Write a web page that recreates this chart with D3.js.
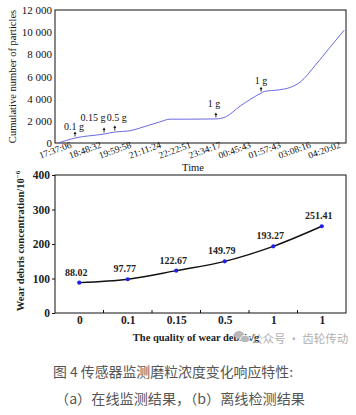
<!DOCTYPE html>
<html><head><meta charset="utf-8">
<script src="https://cdn.jsdelivr.net/npm/d3@7"></script>
<style>
html,body{margin:0;padding:0;background:#fff;}
svg{display:block;}
</style></head>
<body>
<svg id="c" width="356" height="415"></svg>
<script>
// ---- Top chart data (online monitoring) ----
const timeLabels = ["17:37:06","18:48:32","19:59:58","21:11:24","22:22:51","23:34:17","00:45:43","01:57:43","03:08:16","04:20:02"];
const onlineX = [0.1,0.67,1.64,2.0,2.5,2.84,3.5,3.85,4.5,5.38,5.7,6.2,6.89,7.0,7.5,7.85,8.2,8.7,9.2,9.67];
const onlineY = [0,450,810,990,1100,1350,1900,2150,2150,2170,2350,3350,4500,4650,4800,5000,5500,7000,8650,10180];
const yTicksTop = [0,2000,4000,6000,8000,10000,12000];
const addLabels = ["0.1 g","0.15 g","0.5 g","1 g","1 g"];
const addX = [0.67,1.64,2.0,5.38,6.89];
const addY = [450,810,990,2170,4500];

// ---- Bottom chart data (offline detection) ----
const massLabels = ["0","0.1","0.15","0.5","1","1"];
const concValues = [88.02,97.77,122.67,149.79,193.27,251.41];
const yTicksBottom = [0,100,200,300,400];

// annotation label layout (style only)
const annDx = [-1,-11,2,-2,0];
const annDy = [-2,-7,-5,-5,-3];

const svg = d3.select("#c");
const serif = "'Liberation Serif','Times New Roman',serif";

// ================= TOP CHART =================
const T = {l:55, r:346, t:10, b:143};
const xT = d3.scaleLinear().domain([0, 9.73]).range([T.l, T.r]);
const yT = d3.scaleLinear().domain([0, 12000]).range([T.b, T.t]);

svg.append("rect").attr("x",T.l).attr("y",T.t).attr("width",T.r-T.l).attr("height",T.b-T.t)
  .attr("fill","none").attr("stroke","#111").attr("stroke-width",1);

const fmtSpace = v => d3.format(",")(v).replace(/,/g," ");
const gyT = svg.append("g").attr("transform",`translate(${T.l},0)`)
  .call(d3.axisLeft(yT).tickValues(yTicksTop).tickFormat(fmtSpace).tickSize(0).tickPadding(3));
gyT.select(".domain").remove();
gyT.selectAll("text").attr("font-family",serif).attr("font-size","11px").attr("fill","#111");

const gxT = svg.append("g").attr("transform",`translate(0,${T.b})`)
  .call(d3.axisBottom(xT).tickValues(d3.range(timeLabels.length)).tickFormat(i=>timeLabels[i]).tickSize(0));
gxT.select(".domain").remove();
gxT.selectAll("text")
  .attr("font-family",serif).attr("font-size","9.5px").attr("fill","#111")
  .attr("text-anchor","middle").attr("dy",null).attr("y",null)
  .attr("dominant-baseline","middle")
  .attr("transform","translate(0,8) rotate(-20)");

const lineT = d3.line().x(d=>xT(d[0])).y(d=>yT(d[1])).curve(d3.curveMonotoneX);
svg.append("path").datum(onlineX.map((x,i)=>[x,onlineY[i]]))
  .attr("d",lineT).attr("fill","none").attr("stroke","#6a6ae0").attr("stroke-width",1);

// addition arrows and labels
const ann = svg.append("g");
addLabels.forEach((lab,i)=>{
  const px = xT(addX[i]), py = yT(addY[i]) - 1.5;
  const top = py - 5;
  ann.append("line").attr("x1",px).attr("x2",px).attr("y1",py).attr("y2",top+1.5)
    .attr("stroke","#111").attr("stroke-width",0.9);
  ann.append("path").attr("d",`M${px-1.5},${top+2.5}L${px},${top}L${px+1.5},${top+2.5}Z`).attr("fill","#111");
  ann.append("text").attr("x",px+annDx[i]).attr("y",top+annDy[i]).attr("text-anchor","middle")
    .attr("font-family",serif).attr("font-size","10px").attr("fill","#111").text(lab);
});

svg.append("text").attr("x",193).attr("y",171).attr("text-anchor","middle")
  .attr("font-family",serif).attr("font-size","10.5px").attr("fill","#111").text("Time");
svg.append("text").attr("transform",`translate(16,${(T.t+T.b)/2}) rotate(-90)`)
  .attr("text-anchor","middle").attr("font-family",serif).attr("font-size","10.5px").attr("fill","#111")
  .text("Cumulative number of particles");

// ================= BOTTOM CHART =================
const B = {l:55, r:346, t:175, b:313};
const xB = d3.scalePoint().domain(d3.range(massLabels.length)).range([B.l,B.r]).padding(0.5);
const yB = d3.scaleLinear().domain([0,400]).range([B.b,B.t]);

svg.append("rect").attr("x",B.l).attr("y",B.t).attr("width",B.r-B.l).attr("height",B.b-B.t)
  .attr("fill","none").attr("stroke","#111").attr("stroke-width",1);

const gyB = svg.append("g").attr("transform",`translate(${B.l},0)`)
  .call(d3.axisLeft(yB).tickValues(yTicksBottom).tickSize(3).tickPadding(2));
gyB.select(".domain").remove();
gyB.selectAll("line").attr("stroke","#111");
gyB.selectAll("text").attr("font-family",serif).attr("font-size","11.5px").attr("font-weight","bold").attr("fill","#222");

const gxB = svg.append("g").attr("transform",`translate(0,${B.b})`)
  .call(d3.axisBottom(xB).tickFormat(i=>massLabels[i]).tickSize(0).tickPadding(3));
gxB.select(".domain").remove();
gxB.selectAll("text").attr("font-family",serif).attr("font-size","11.5px").attr("font-weight","bold").attr("fill","#222");

// inner boundary ticks
const step = xB.step();
d3.range(1, massLabels.length).forEach(k=>{
  const bx = xB(k) - step/2;
  svg.append("line").attr("x1",bx).attr("x2",bx).attr("y1",B.b).attr("y2",B.b-3).attr("stroke","#111");
});

const lineB = d3.line().x((d,i)=>xB(i)).y(d=>yB(d)).curve(d3.curveCatmullRom);
svg.append("path").datum(concValues).attr("d",lineB).attr("fill","none")
  .attr("stroke","#111").attr("stroke-width",1.4);
svg.append("g").selectAll("circle").data(concValues).join("circle")
  .attr("cx",(d,i)=>xB(i)).attr("cy",d=>yB(d)).attr("r",2.1).attr("fill","#2020e8");
svg.append("g").selectAll("text").data(concValues).join("text")
  .attr("x",(d,i)=>xB(i)-3).attr("y",d=>yB(d)-7).attr("text-anchor","middle")
  .attr("font-family",serif).attr("font-size","10px").attr("font-weight","bold").attr("fill","#222")
  .text(d=>d.toFixed(2));

svg.append("text").attr("x",196).attr("y",341).attr("text-anchor","middle")
  .attr("font-family",serif).attr("font-size","10.5px").attr("font-weight","bold").attr("fill","#222")
  .text("The quality of wear debris/g");
const yt = svg.append("text").attr("transform",`translate(24,${(B.t+B.b)/2 - 3}) rotate(-90)`)
  .attr("text-anchor","middle").attr("font-family",serif).attr("font-size","10.5px").attr("font-weight","bold").attr("fill","#222");
yt.append("tspan").text("Wear debris concentration/10");
yt.append("tspan").attr("dy","-4").attr("font-size","7px").text("−6");

// watermark
const wm = svg.append("g").attr("fill","#b8b8b8");
wm.append("ellipse").attr("cx",239).attr("cy",335).attr("rx",5).attr("ry",4);
wm.append("ellipse").attr("cx",245).attr("cy",339).attr("rx",4.5).attr("ry",3.6).attr("stroke","#fff").attr("stroke-width",0.8);
svg.append("text").attr("x",251).attr("y",343).attr("font-family","'Noto Sans CJK SC',sans-serif")
  .attr("font-size","11.5px").attr("fill","#b0b0b0").text("公众号 · 齿轮传动");

// caption
const cjk = "'Noto Sans CJK SC','Noto Sans',sans-serif";
svg.append("text").attr("x",53).attr("y",377).attr("font-family",cjk).attr("font-size","13.5px").attr("fill","#555")
  .attr("textLength",240).attr("lengthAdjust","spacingAndGlyphs")
  .text("图 4  传感器监测磨粒浓度变化响应特性:");
svg.append("text").attr("x",55).attr("y",404).attr("font-family",cjk).attr("font-size","13.5px").attr("fill","#555")
  .attr("textLength",250).attr("lengthAdjust","spacingAndGlyphs")
  .text("（a）在线监测结果，（b）离线检测结果");
</script>
</body></html>
